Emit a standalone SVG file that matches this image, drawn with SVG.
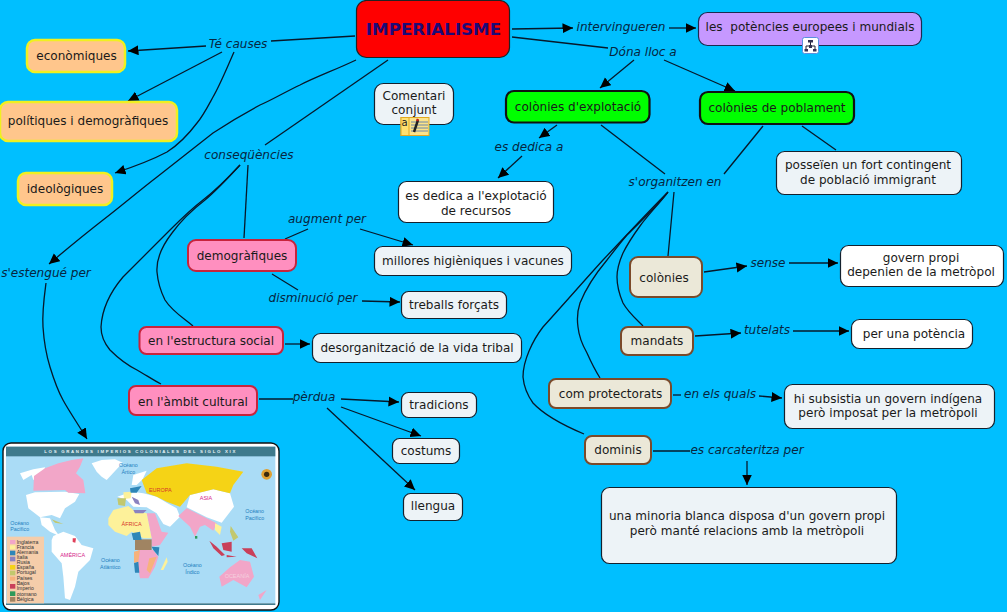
<svg xmlns="http://www.w3.org/2000/svg" width="1007" height="612" viewBox="0 0 1007 612">
<style>
text{font-family:"DejaVu Sans","Liberation Sans",sans-serif;font-size:12.050px;fill:#1a1a1a;text-anchor:middle}
.lbl{font-style:italic;fill:#06263f}
.c{fill:none;stroke:#07182a;stroke-width:1.3}
.a{marker-end:url(#ah)}
.n{stroke:#14212e;stroke-width:1.2}
.p{fill:#edf3f7}.w{fill:#fff}
.cau{fill:#ffc68c;stroke:#f0f020;stroke-width:2.5}
.gr{fill:#00ff00;stroke:#111;stroke-width:2.2}
.pk{fill:#ff8fbf;stroke:#c8243c;stroke-width:2}
.be{fill:#ebe8d8;stroke:#7b4a2a;stroke-width:2}
.mp text{font-family:"Liberation Sans",Arial,sans-serif}
.mp .m{font-size:16px;fill:#1f7fc0}
.mp .lg{font-size:15.500px;fill:#333;text-anchor:start}
.mp .ct{font-size:16.500px}
</style>
<defs>
<marker id="ah" markerUnits="userSpaceOnUse" markerWidth="11" markerHeight="11" refX="10.500" refY="5" orient="auto"><path d="M0 0L10.500 5L0 10z" fill="#000"/></marker>
<filter id="soft" x="-2%" y="-2%" width="104%" height="104%"><feGaussianBlur stdDeviation="1.300"/></filter>
</defs>
<rect width="1007" height="612" fill="#00bfff"/>
<g id="connectors">
<path class="c" d="M355 36L271 41"/>
<path class="c a" d="M206 46L128 51"/>
<path class="c a" d="M222 52L128 101"/>
<path class="c a" d="M234 52C226 70 220 85 213 97C207 108 203 116 197 123C188 135 178 145 167 152C150 161 133 167 115 173"/>
<path class="c a" d="M356 60C335 70 318 76 300 85C285 92 272 100 260 105C243 114 228 123 213 133C195 147 175 163 157 177C140 190 120 207 103 220C85 234 68 248 49 264"/>
<path class="c a" d="M46 283C44 298 42 312 43 327C44 342 46 354 50 367C54 380 58 391 63 400C69 411 76 421 87 439"/>
<path class="c" d="M388 60L265 145"/>
<path class="c" d="M248 165L244 238"/>
<path class="c" d="M240 165C228 178 217 190 205 200C192 210 180 222 172 233C162 246 156 258 157 272C158 284 161 292 165 300C172 311 182 317 193 326"/>
<path class="c" d="M240 165C228 178 216 190 203 200C190 210 180 220 170 230C155 245 140 260 123 277C112 290 102 308 101 327C101 337 105 344 110 350C118 358 127 365 137 370C146 375 153 380 161 384"/>
<path class="c a" d="M512 29L573 28"/>
<path class="c a" d="M669 28L696 28"/>
<path class="c" d="M512 37L608 48"/>
<path class="c a" d="M634 60L600 88"/>
<path class="c a" d="M664 60L735 91"/>
<path class="c a" d="M557 125L539 138"/>
<path class="c a" d="M522 156L498 178"/>
<path class="c" d="M601 125L665 174"/>
<path class="c" d="M763 126L724 174"/>
<path class="c" d="M802 126L836 150"/>
<path class="c" d="M674 192L668 256"/>
<path class="c" d="M668 192C658 205 648 215 640 226C632 237 627 245 623 253C619 262 617 270 617 277C617 288 620 296 623 303C628 312 635 318 643 326"/>
<path class="c" d="M668 192C655 208 641 221 627 235C620 243 614 251 607 260C597 272 586 288 580 303C577 312 577 320 578 327C579 337 583 346 587 353C591 362 595 370 600 378"/>
<path class="c" d="M667 193C646 214 624 238 603 260C583 282 563 305 543 327C533 340 523 360 523 377C524 388 528 396 533 403C545 416 565 426 584 434"/>
<path class="c" d="M285 239L308 229"/>
<path class="c a" d="M360 229L413 245"/>
<path class="c" d="M272 274L298 290"/>
<path class="c a" d="M362 301L400 302"/>
<path class="c a" d="M285 344L310 344"/>
<path class="c" d="M259 399L293 399"/>
<path class="c a" d="M341 399L399 402"/>
<path class="c a" d="M341 407L421 436"/>
<path class="c a" d="M327 408L415 490"/>
<path class="c a" d="M704 272L747 266"/>
<path class="c a" d="M789 263L838 263"/>
<path class="c a" d="M695 336L741 333"/>
<path class="c a" d="M793 331L849 331"/>
<path class="c" d="M673 395L681 395"/>
<path class="c a" d="M759 396L782 398"/>
<path class="c" d="M653 451L690 451"/>
<path class="c a" d="M747 461L747 485"/>
</g>
<g id="imperialisme"><rect x="356.500" y="0.500" width="153" height="57" rx="10" fill="#ff0000" stroke="#222" stroke-width="1.200"/><text x="433.500" y="35" style="font-size:16.700px;font-weight:bold;fill:#1c0a78">IMPERIALISME</text></g>
<g id="comentari"><rect class="n p" x="374.500" y="83.500" width="79" height="41" rx="9"/><text x="414" y="100">Comentari</text><text x="414" y="114">conjunt</text>
<g><rect x="401" y="117.500" width="28" height="18" fill="#fbe38a" stroke="#e0a820"/><rect x="401" y="117.500" width="8" height="18" fill="#ffe070" stroke="#e0a820"/><text x="404.500" y="126" style="font-size:10px">a</text><path d="M411 122h17M411 125h17M411 128h17M411 131h17" stroke="#4a6fb0" stroke-width="0.800"/><path d="M414 132L418 120" stroke="#222" stroke-width="2.400"/><path d="M417 121L418 119" stroke="#c01818" stroke-width="2.400"/></g></g>
<g id="explotacio"><rect class="gr" x="506" y="91" width="143.500" height="31.500" rx="8"/><text x="578" y="111">colònies d'explotació</text></g>
<g id="poblament"><rect class="gr" x="700" y="92" width="154" height="32" rx="8"/><text x="777" y="112">colònies de poblament</text></g>
<g id="potencies"><rect x="698.500" y="12.500" width="223" height="33" rx="9" fill="#c698ff" stroke="#1c2a50" stroke-width="1.200"/><text x="810" y="31" xml:space="preserve">les  potències europees i mundials</text>
<g><rect x="802.500" y="37.500" width="16" height="16" rx="2" fill="#fff" stroke="#5a8fe0"/><path d="M810.500 42v3M806 49v-3h9v3" fill="none" stroke="#223"/><rect x="808" y="40" width="5" height="2.500" fill="#335"/><rect x="804.500" y="49" width="3.500" height="2.500" fill="#335"/><rect x="813" y="49" width="3.500" height="2.500" fill="#335"/><rect x="809" y="45" width="3" height="3" fill="#335"/></g></g>
<g id="economiques"><rect class="cau" x="27" y="40" width="98" height="32" rx="8"/><text x="76.500" y="60">econòmiques</text></g>
<g id="politiques"><rect class="cau" x="0" y="102" width="177" height="39" rx="8"/><text x="88" y="125">polítiques i demogràfiques</text></g>
<g id="ideologiques"><rect class="cau" x="18" y="173" width="94" height="32" rx="8"/><text x="65" y="193">ideològiques</text></g>
<g id="demografiques"><rect class="pk" x="188" y="240" width="108" height="31" rx="8"/><text x="242" y="260">demogràfiques</text></g>
<g id="estructura"><rect class="pk" x="139.500" y="327" width="143.500" height="27" rx="7"/><text x="211" y="345">en l'estructura social</text></g>
<g id="ambit"><rect class="pk" x="129" y="386" width="128" height="29" rx="7"/><text x="193" y="406">en l'àmbit cultural</text></g>
<g id="desorg"><rect class="n p" x="312.500" y="333.500" width="209" height="29" rx="8"/><text x="417" y="352">desorganització de la vida tribal</text></g>
<g id="millores"><rect class="n p" x="374.500" y="246.500" width="197" height="29" rx="8"/><text x="473" y="265">millores higièniques i vacunes</text></g>
<g id="treballs"><rect class="n p" x="401.500" y="291.500" width="105" height="27" rx="7"/><text x="454" y="309">treballs forçats</text></g>
<g id="dedica"><rect class="n w" x="398.500" y="181.500" width="155" height="41" rx="8"/><text x="476" y="200">es dedica a l'explotació</text><text x="476" y="215">de recursos</text></g>
<g id="posseien"><rect class="n p" x="776.500" y="151.500" width="185" height="43" rx="8"/><text x="868" y="169">posseïen un fort contingent</text><text x="868" y="184">de població immigrant</text></g>
<g id="colonies"><rect class="be" x="630" y="257" width="72" height="40" rx="8"/><text x="664" y="282">colònies</text></g>
<g id="mandats"><rect class="be" x="621" y="327" width="72" height="28" rx="7"/><text x="657" y="345">mandats</text></g>
<g id="protectorats"><rect class="be" x="549" y="379" width="122" height="29" rx="7"/><text x="610.500" y="398">com protectorats</text></g>
<g id="dominis"><rect class="be" x="585" y="436" width="66" height="28" rx="7"/><text x="618" y="454">dominis</text></g>
<g id="govern"><rect class="n w" x="840.500" y="245.500" width="163" height="41" rx="8"/><text x="921" y="262">govern propi</text><text x="921" y="276">depenien de la metròpol</text></g>
<g id="potencia"><rect class="n w" x="851.500" y="319.500" width="121" height="29" rx="8"/><text x="914" y="338">per una potència</text></g>
<g id="subsistia"><rect class="n p" x="784.500" y="384.500" width="210" height="44" rx="8"/><text x="888" y="403">hi subsistia un govern indígena</text><text x="888" y="417">però imposat per la metròpoli</text></g>
<g id="minoria"><rect class="n p" x="601.500" y="487.500" width="295" height="76" rx="8"/><text x="747" y="520">una minoria blanca disposa d'un govern propi</text><text x="747" y="535">però manté relacions amb la metròpoli</text></g>
<g id="tradicions"><rect class="n p" x="401.500" y="392.500" width="75" height="25" rx="7"/><text x="439" y="409">tradicions</text></g>
<g id="costums"><rect class="n p" x="392.500" y="438.500" width="67" height="25" rx="7"/><text x="426" y="455">costums</text></g>
<g id="llengua"><rect class="n p" x="403.500" y="493.500" width="59" height="27" rx="7"/><text x="433" y="510">llengua</text></g>
<g id="labels">
<text class="lbl" x="238" y="48">Té causes</text>
<text class="lbl" x="621" y="31">intervingueren</text>
<text class="lbl" x="643" y="56">Dóna lloc a</text>
<text class="lbl" x="249" y="159">conseqüències</text>
<text class="lbl" x="46" y="277">s'estengué per</text>
<text class="lbl" x="529" y="151">es dedica a</text>
<text class="lbl" x="675" y="186">s'organitzen en</text>
<text class="lbl" x="327" y="223">augment per</text>
<text class="lbl" x="313" y="302">disminució per</text>
<text class="lbl" x="314" y="401">pèrdua</text>
<text class="lbl" x="768" y="267">sense</text>
<text class="lbl" x="767" y="334">tutelats</text>
<text class="lbl" x="720" y="398">en els quals</text>
<text class="lbl" x="747" y="454">es carcateritza per</text>
</g>
<g id="mapa">
<rect x="3" y="443" width="276" height="167" rx="8" fill="#fff" stroke="#111" stroke-width="1.400"/>
<g class="mp" transform="translate(0 430) scale(.33333)">
<rect x="18" y="50" width="808" height="470" fill="#aadcf6"/>
<rect x="18" y="520" width="808" height="5" fill="#3f7a8c"/>
<rect x="18" y="50" width="808" height="29" fill="#3f7a8c"/>
<text x="422" y="68" style="font-size:13px;font-weight:bold;fill:#e8f4f8;letter-spacing:5.100px">LOS GRANDES IMPERIOS COLONIALES DEL SIGLO XIX</text>
<g filter="url(#soft)">
<path fill="#fff" d="M60 130L100 118L135 112L130 135L100 150L95 135L70 150zM275 100L305 90L345 88L368 98L350 118L320 150L305 140L290 125zM78 195L105 187L195 185L238 192L225 215L195 235L180 265L155 255L120 262L85 235zM120 262L150 265L165 300L178 318L150 305L125 285zM160 318L190 305L225 318L245 345L280 355L270 390L235 425L225 470L210 510L195 505L190 440L185 400L155 365L155 330zM395 165L400 135L440 122L428 148L410 165zM352 200L395 185L430 190L470 200L500 218L530 235L540 260L510 290L490 282L470 250L440 232L400 230L380 210zM570 195L640 178L690 190L702 230L665 278L620 262L560 232z"/>
<path fill="#f2a6c8" d="M100 182L102 138L135 115L175 100L215 90L250 85L240 110L228 130L250 150L256 190L205 188L195 180zM440 250L465 250L485 305L505 308L480 345L455 350L455 325zM415 360L460 360L475 380L465 410L445 445L420 445L410 395zM535 258L560 235L620 265L650 280L640 302L615 285L600 290L585 320L570 290zM658 440L690 412L720 390L750 395L762 440L740 472L700 450L665 470zM775 495L800 480L780 510z"/>
<path fill="#f5d318" d="M425 150L470 115L560 100L650 110L730 125L700 165L690 190L640 178L570 195L540 230L500 215L470 200L440 190z"/>
<path fill="#fdf19a" d="M325 265L340 240L385 228L400 240L440 250L455 325L430 325L395 305L380 318L345 305L325 285zM482 420L500 382L503 395L490 420zM645 280L665 290L660 315L645 300zM370 187L395 185L392 205L372 207z"/>
<path fill="#a08462" d="M405 328H455V360H405z"/>
<path fill="#2f86b8" d="M395 310L420 305L425 330L400 330zM390 175L425 168L410 188L392 188zM455 350L478 352L475 378L460 360zM402 398L415 395L418 428L405 428z"/>
<path fill="#f7b27c" d="M402 365L420 360L415 395L402 398zM448 385L470 380L450 430L440 420z"/>
<path fill="#c2c86e" d="M352 205L378 205L375 228L355 225zM692 288L715 322L700 332L690 305z"/>
<path fill="#8a82c0" d="M400 240L440 240L430 250L405 250zM395 200L415 210L420 225L405 220z"/>
<path fill="#c9405a" d="M628 332L650 350L675 375L665 378L640 355zM665 340L695 335L695 365L670 360zM725 355L755 355L772 385L740 370zM680 375L710 380L680 382z"/>
<path fill="#2e9a5a" d="M585 318L592 318L592 326L585 326z"/>
<path fill="#e0405a" d="M218 325L228 325L226 338L218 336z"/>
<path fill="#c2c86e" d="M155 268L190 282L165 278z"/>
<circle cx="800" cy="133" r="16" fill="#e0a030"/><circle cx="800" cy="133" r="8" fill="#3a2a10"/>
</g>
<text class="m" x="385" y="112">Océano</text><text class="m" x="385" y="133">Ártico</text>
<text class="m" x="59" y="284">Océano</text><text class="m" x="59" y="304">Pacífico</text>
<text class="m" x="764" y="249">Océano</text><text class="m" x="764" y="269">Pacífico</text>
<text class="m" x="331" y="396">Océano</text><text class="m" x="331" y="416">Atlántico</text>
<text class="m" x="577" y="412">Océano</text><text class="m" x="577" y="432">Índico</text>
<text class="ct" x="481" y="186" style="fill:#d6342a">EUROPA</text>
<text class="ct" x="618" y="211" style="fill:#d61c8a">ASIA</text>
<text class="ct" x="395" y="288" style="fill:#d6342a">ÁFRICA</text>
<text class="ct" x="218" y="380" style="fill:#d61c8a">AMÉRICA</text>
<text class="ct" x="711" y="443" style="fill:#f4d0de">OCEANÍA</text>
<rect x="20" y="320" width="112" height="200" fill="#f5cdaa"/>
<g><rect x="30" y="330" width="16" height="12" fill="#f2a6c8"/><rect x="30" y="346" width="16" height="12" fill="#fdf19a"/><rect x="30" y="362" width="16" height="14" fill="#2f86b8"/><rect x="30" y="380" width="16" height="14" fill="#8a82c0"/><rect x="30" y="405" width="16" height="14" fill="#f5d318"/><rect x="30" y="422" width="16" height="14" fill="#c2c86e"/><rect x="30" y="440" width="16" height="12" fill="#f7b27c"/><rect x="30" y="462" width="16" height="14" fill="#c9405a"/><rect x="30" y="484" width="16" height="14" fill="#2e9a5a"/><rect x="30" y="501" width="16" height="14" fill="#a08462"/></g>
<text class="lg" x="50" y="341">Inglaterra</text><text class="lg" x="50" y="357">Francia</text><text class="lg" x="50" y="372">Alemania</text><text class="lg" x="50" y="387">Italia</text><text class="lg" x="50" y="403">Rusia</text><text class="lg" x="50" y="418">España</text><text class="lg" x="50" y="433">Portugal</text><text class="lg" x="50" y="449">Países</text><text class="lg" x="50" y="465">Bajos</text><text class="lg" x="50" y="481">Imperio</text><text class="lg" x="50" y="497">otomano</text><text class="lg" x="50" y="512">Bélgica</text>
</g>
</g>
</svg>
